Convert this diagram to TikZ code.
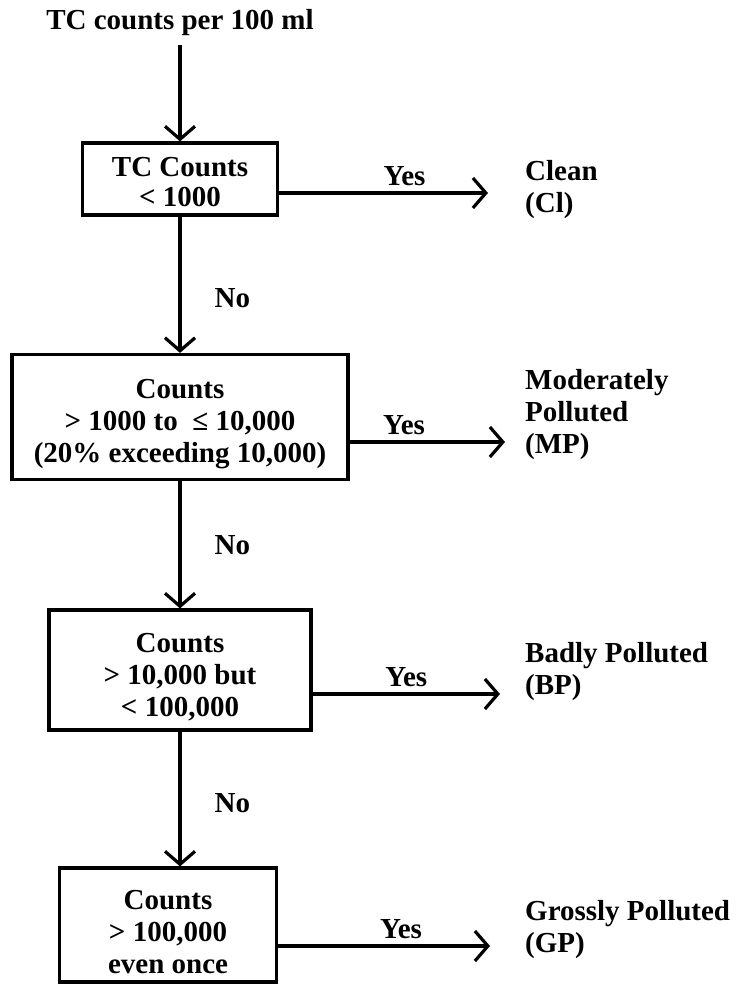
\documentclass[tikz,border=0pt]{standalone}
\usepackage{fontspec}
\setmainfont{Liberation Serif}
\usetikzlibrary{arrows.meta}

\newcommand{\toppad}{\rule{0pt}{34pt}}

\begin{document}
\begin{tikzpicture}[
  x=1pt, y=-1pt,
  every node/.style={font=\bfseries\fontsize{29}{32}\selectfont, inner sep=0pt},
  test/.style={draw, line width=3.2pt, align=center},
  result/.style={anchor=west, align=left},
  flow/.style={draw, line width=3.2pt, -{Straight Barb[length=13pt, width=30pt, line width=3.2pt]}}
]
  \useasboundingbox (0,0) rectangle (739,984);

  \node (src) at (180,23) {TC counts per 100 ml};
  \node[test, minimum width=195pt, minimum height=72pt] (t1) at (180,179) {\rule{0pt}{26pt}TC Counts\\[-2pt]< 1000};
  \node[test, minimum width=336pt, minimum height=125pt] (t2) at (180,417) {\toppad Counts\\> 1000 to\ \ ≤ 10,000\\(20\% exceeding 10,000)};
  \node[test, minimum width=262pt, minimum height=120pt] (t3) at (180,670) {\toppad Counts\\> 10,000 but\\< 100,000};
  \node[test, minimum width=217pt, minimum height=114pt] (t4) at (168,925) {\toppad Counts\\> 100,000\\even once};

  \node[result] (r1) at (525,190) {Clean\\(Cl)};
  \node[result] (r2) at (525,415) {Moderately\\Polluted\\(MP)};
  \node[result] (r3) at (525,672) {Badly Polluted\\(BP)};
  \node[result] (r4) at (525,930) {Grossly Polluted\\(GP)};

  \coordinate (y1) at (488,193);
  \coordinate (y2) at (505,442);
  \coordinate (y3) at (500,694);
  \coordinate (y4) at (490,946);

  \draw[flow, shorten <=9pt] (src.south) -- (t1.north);
  \draw[flow] (t1.south) -- node[pos=0.6, right=33pt] {No} (t2.north);
  \draw[flow] (t2.south) -- node[pos=0.5, right=33pt] {No} (t3.north);
  \draw[flow] (t3.south) -- node[pos=0.53, right=33pt] {No} (t3.south |- t4.north);

  \draw[flow] (t1.east |- y1) -- node[pos=0.6, above=6pt] {Yes} (y1);
  \draw[flow] (t2.east |- y2) -- node[pos=0.35, above=6pt] {Yes} (y2);
  \draw[flow] (t3.east |- y3) -- node[pos=0.5, above=6pt] {Yes} (y3);
  \draw[flow] (t4.east |- y4) -- node[pos=0.58, above=6pt] {Yes} (y4);
\end{tikzpicture}
\end{document}
